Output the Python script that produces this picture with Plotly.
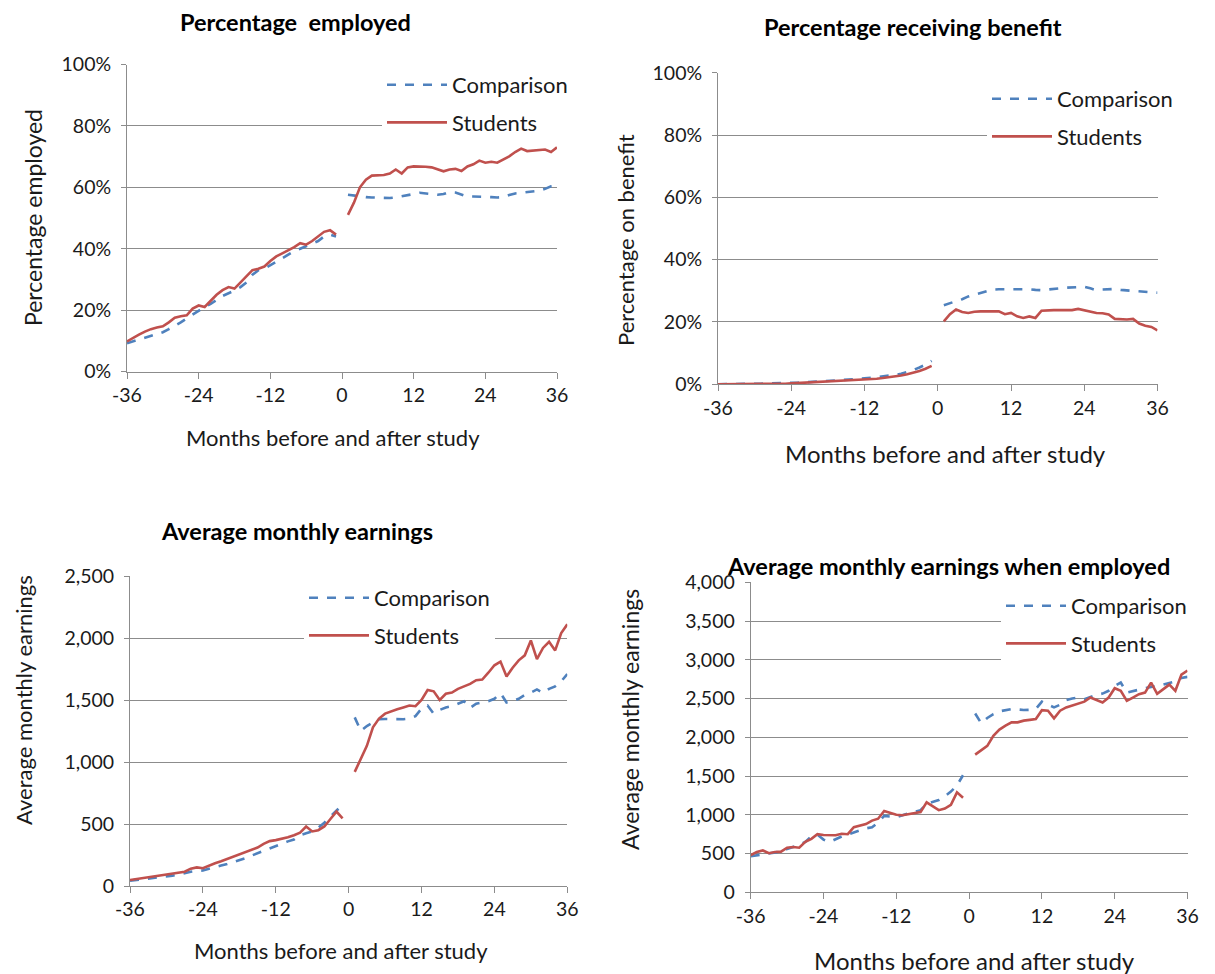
import plotly.graph_objects as go

# ---------------- data ----------------
months_pre = list(range(-36, 0))
months_post = list(range(1, 37))
x_ticks = [-36, -24, -12, 0, 12, 24, 36]

# Percentage employed (%)
emp_comparison_pre = [9.2, 9.8, 10.4, 11, 11.6, 12.2, 12.8, 13.8, 14.8, 16, 17.3, 18.6,
                      19.9, 21, 22, 23.3, 24.6, 25.5, 26.3, 27.5, 29, 31.5, 33, 33.5,
                      34.6, 35.9, 37, 38, 39.2, 40, 40.8, 41.5, 42.5, 44, 44.6, 44]
emp_comparison_post = [57.6, 57.3, 57, 56.8, 56.7, 56.6, 56.5, 56.5, 56.7, 57, 57.4, 57.8,
                       58.2, 58, 57.8, 57.6, 57.8, 58.5, 58.3, 57.6, 57, 57, 57, 57,
                       56.8, 56.7, 56.8, 57.5, 58, 58.2, 58.5, 58.7, 58.9, 59.5, 60.3, 60.5]
emp_students_pre = [9.8, 11, 12, 13, 13.8, 14.3, 14.7, 16, 17.5, 18, 18.3, 20.5,
                    21.5, 21, 23, 25, 26.5, 27.5, 27, 29, 31, 33, 33.5, 34.2,
                    36, 37.5, 38.5, 39.5, 40.5, 41.8, 41.3, 42.5, 44, 45.5, 46, 44.6]
emp_students_post = [51, 55, 60, 62.5, 63.8, 64, 64, 64.5, 65.8, 64.5, 66.5, 66.8,
                     66.8, 66.7, 66.5, 65.8, 65.2, 65.8, 66, 65.3, 66.8, 67.5, 68.7, 68,
                     68.3, 68, 69, 70.1, 71.5, 72.6, 71.8, 72, 72.3, 72.3, 71.5, 73]

# Percentage receiving benefit (%)
ben_comparison_pre = [0, 0, 0, 0, 0, 0, 0.1, 0.2, 0.3, 0.4, 0.5, 0.5,
                      0.5, 0.5, 0.6, 0.7, 0.8, 0.9, 1.0, 1.1, 1.2, 1.4, 1.6, 1.7,
                      1.9, 2.1, 2.3, 2.5, 2.7, 3.0, 3.4, 3.9, 4.6, 5.4, 6.3, 7.5]
ben_comparison_post = [25.4, 26, 26.8, 27.3, 28.2, 28.8, 29.4, 29.9, 30.4, 30.5, 30.5, 30.5,
                       30.5, 30.6, 30.5, 30.3, 30.2, 30.4, 30.5, 30.8, 31, 31.1, 31.2, 31.3,
                       30.8, 30.2, 30.4, 30.6, 30.6, 30.3, 30.1, 29.9, 29.9, 29.7, 29.5, 29.4]
ben_students_pre = [0, 0, 0, 0, 0, 0, 0, 0, 0, 0, 0.1, 0.2,
                    0.3, 0.4, 0.5, 0.6, 0.7, 0.8, 0.9, 1.0, 1.1, 1.2, 1.3, 1.3,
                    1.4, 1.6, 1.8, 2.0, 2.2, 2.5, 2.8, 3.2, 3.7, 4.3, 5.0, 5.9]
ben_students_post = [20.2, 22.5, 24, 23.2, 22.9, 23.3, 23.4, 23.4, 23.4, 23.4, 22.5, 22.9,
                     21.8, 21.3, 21.8, 21.3, 23.6, 23.8, 23.8, 23.8, 23.8, 23.8, 24.2, 23.8,
                     23.2, 22.9, 22.8, 22.4, 21, 20.8, 20.8, 21, 19.5, 18.8, 18.4, 17.3]

# Average monthly earnings
earn_comparison_pre = [43, 48, 55, 62, 67, 72, 78, 83, 92, 105, 115, 122,
                       125, 140, 150, 165, 178, 192, 205, 225, 245, 265, 285, 305,
                       320, 340, 360, 375, 410, 425, 440, 470, 510, 560, 610, 655]
earn_comparison_post = [1360, 1250, 1290, 1320, 1345, 1347, 1345, 1342, 1345, 1350, 1370, 1430,
                        1455, 1390, 1420, 1440, 1450, 1470, 1490, 1436, 1470, 1480, 1490, 1510,
                        1555, 1480, 1490, 1510, 1540, 1560, 1585, 1557, 1590, 1610, 1650, 1710]
earn_students_pre = [48, 55, 62, 70, 76, 82, 89, 97, 103, 115, 140, 150,
                     143, 165, 183, 200, 218, 235, 250, 270, 290, 310, 340, 362,
                     370, 380, 393, 410, 430, 479, 440, 450, 480, 540, 600, 545]
earn_students_post = [920, 1020, 1130, 1280, 1350, 1390, 1410, 1425, 1440, 1455, 1450, 1500,
                      1580, 1570, 1500, 1550, 1560, 1590, 1610, 1630, 1660, 1665, 1720, 1780,
                      1810, 1690, 1760, 1820, 1860, 1980, 1830, 1920, 1970, 1900, 2040, 2110]

# Average monthly earnings when employed
emple_comparison_pre = [466, 478, 490, 505, 515, 525, 560, 585, 610, 650, 720, 745,
                        680, 650, 690, 720, 745, 775, 800, 825, 840, 900, 985, 975,
                        970, 995, 1020, 1040, 1060, 1140, 1165, 1190, 1240, 1300, 1380, 1510]
emple_comparison_post = [2307, 2180, 2250, 2300, 2335, 2350, 2365, 2360, 2352, 2355, 2365, 2461,
                         2420, 2386, 2420, 2480, 2500, 2513, 2491, 2520, 2547, 2564, 2600, 2663,
                         2706, 2577, 2599, 2615, 2633, 2650, 2663, 2680, 2700, 2720, 2766, 2780]
emple_students_pre = [480, 520, 540, 505, 520, 525, 575, 585, 575, 650, 690, 750,
                      740, 738, 736, 755, 750, 840, 860, 880, 925, 950, 1050, 1025,
                      1000, 995, 1010, 1025, 1035, 1160, 1110, 1060, 1080, 1130, 1290, 1220]
emple_students_post = [1777, 1830, 1890, 2020, 2100, 2150, 2193, 2193, 2215, 2225, 2236, 2350,
                       2343, 2245, 2343, 2386, 2410, 2427, 2460, 2513, 2479, 2449, 2513, 2633,
                       2600, 2470, 2513, 2556, 2577, 2706, 2560, 2620, 2680, 2600, 2810, 2860]

series_names = ["Comparison", "Students"]

# ---------------- layout helpers ----------------
W, H = 1215, 974
OFF = 8  # page body margin in the browser
BLUE = "#4F81BD"
RED = "#C0504D"
GRID = "#8C8C8C"
TXT = "#1a1a1a"
FONT = "Lato"


def fx(p):
    return (p - OFF) / W


def fy(p):
    return 1 - (p - OFF) / H


panels = [
    dict(title="Percentage  employed", tpos=(295, 22),
         ytitle="Percentage employed", ytpos=(33, 218), yts=23,
         xtitle_pos=(333, 437), xts=22,
         xd=(127, 557), yd=(371.5, 64.5), yrange=[0, 100], dtick=20, suffix="%", fmt="",
         data=[(emp_comparison_pre, emp_comparison_post), (emp_students_pre, emp_students_post)],
         legend=(382, 64)),
    dict(title="Percentage receiving benefit", tpos=(913, 27),
         ytitle="Percentage on benefit", ytpos=(626, 240), yts=22,
         xtitle_pos=(945, 453), xts=24,
         xd=(718, 1157.5), yd=(384.3, 72.7), yrange=[0, 100], dtick=20, suffix="%", fmt="",
         data=[(ben_comparison_pre, ben_comparison_post), (ben_students_pre, ben_students_post)],
         legend=(987, 78)),
    dict(title="Average monthly earnings", tpos=(297, 531),
         ytitle="Average monthly earnings", ytpos=(23, 700), yts=22,
         xtitle_pos=(341, 950), xts=22,
         xd=(130, 567.3), yd=(886, 576), yrange=[0, 2500], dtick=500, suffix="", fmt=",d",
         data=[(earn_comparison_pre, earn_comparison_post), (earn_students_pre, earn_students_post)],
         legend=(304, 577)),
    dict(title="Average monthly earnings when employed", tpos=(948, 566),
         ytitle="Average monthly earnings", ytpos=(630, 720), yts=23,
         xtitle_pos=(975, 960), xts=24,
         xd=(750.7, 1187.5), yd=(892.3, 582.3), yrange=[0, 4000], dtick=500, suffix="", fmt=",d",
         data=[(emple_comparison_pre, emple_comparison_post), (emple_students_pre, emple_students_post)],
         legend=(1001, 585)),
]

fig = go.Figure()
annotations = []
layout = {}

for i, p in enumerate(panels):
    n = "" if i == 0 else str(i + 1)
    xa, ya = "x" + n, "y" + n
    leg = "legend" + n
    for j, (pre, post) in enumerate(p["data"]):
        fig.add_trace(go.Scatter(
            x=months_pre + [0] + months_post,
            y=pre + [None] + post,
            mode="lines",
            name=series_names[j],
            line=dict(color=[BLUE, RED][j], width=2.6, dash=["dash", "solid"][j]),
            connectgaps=False,
            xaxis=xa, yaxis=ya, legend=leg,
            legendgroup=f"{leg}_{j}",
            hoverinfo="skip",
        ))
    layout["xaxis" + n] = dict(
        domain=[fx(p["xd"][0]), fx(p["xd"][1])], anchor=ya, automargin=False,
        range=[-36, 36], tickvals=x_ticks, ticktext=[str(t) for t in x_ticks],
        showgrid=False, zeroline=False, showline=True, linecolor=GRID, linewidth=1,
        ticks="outside", ticklen=6, tickcolor=GRID,
        tickfont=dict(family=FONT, size=19.5, color=TXT), ticklabelstandoff=0,
    )
    layout["yaxis" + n] = dict(
        domain=[fy(p["yd"][0]), fy(p["yd"][1])], anchor=xa, automargin=False,
        range=p["yrange"], dtick=p["dtick"], ticksuffix=p["suffix"], tickformat=p["fmt"],
        showgrid=True, gridcolor=GRID, gridwidth=1, zeroline=False,
        showline=True, linecolor=GRID, linewidth=1,
        ticks="outside", ticklen=5, tickcolor=GRID,
        tickfont=dict(family=FONT, size=19.5, color=TXT), ticklabelstandoff=6,
    )
    layout[leg] = dict(
        x=fx(p["legend"][0]), y=fy(p["legend"][1]), xanchor="left", yanchor="top",
        bgcolor="white", borderwidth=0, font=dict(family=FONT, size=22, color=TXT),
        traceorder="grouped", tracegroupgap=6, itemwidth=60,
    )
    annotations.append(dict(text="<b>" + p["title"] + "</b>", x=fx(p["tpos"][0]), y=fy(p["tpos"][1]),
                            xref="paper", yref="paper", showarrow=False,
                            xanchor="center", yanchor="middle",
                            font=dict(family=FONT, size=23.5, color="black")))
    annotations.append(dict(text=p["ytitle"], x=fx(p["ytpos"][0]), y=fy(p["ytpos"][1]),
                            xref="paper", yref="paper", showarrow=False, textangle=-90,
                            xanchor="center", yanchor="middle",
                            font=dict(family=FONT, size=p["yts"], color=TXT)))
    annotations.append(dict(text="Months before and after study", x=fx(p["xtitle_pos"][0]),
                            y=fy(p["xtitle_pos"][1]), xref="paper", yref="paper", showarrow=False,
                            xanchor="center", yanchor="middle",
                            font=dict(family=FONT, size=p["xts"], color=TXT)))

fig.update_layout(
    width=W, height=H,
    margin=dict(l=0, r=0, t=0, b=0, pad=0, autoexpand=False),
    paper_bgcolor="white", plot_bgcolor="white",
    showlegend=True,
    annotations=annotations,
    **layout,
)

fig.write_html("out.html")
